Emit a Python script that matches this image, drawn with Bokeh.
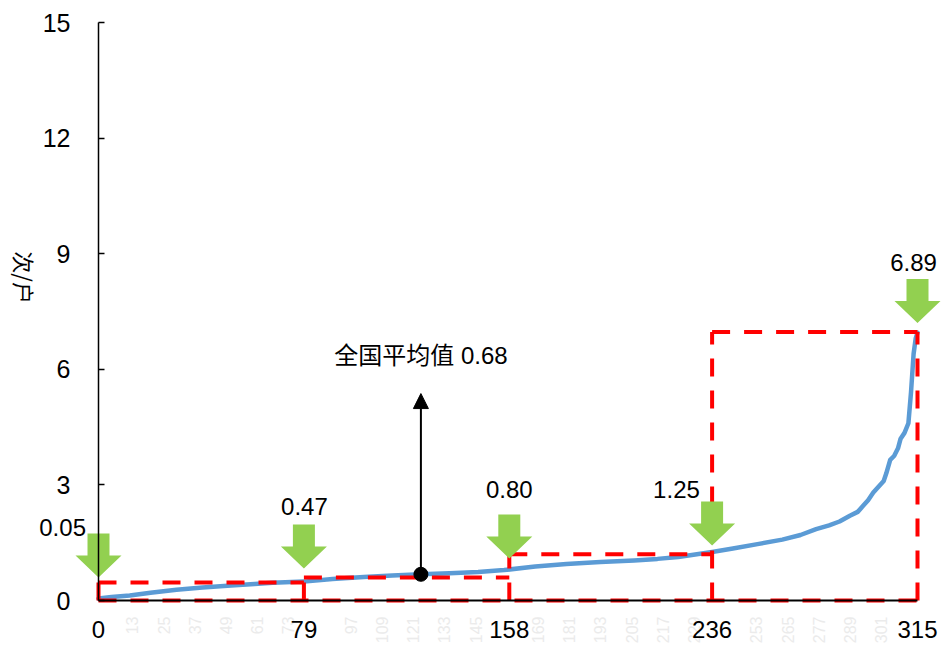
import math
from bokeh.plotting import figure
from bokeh.models import Range1d, FixedTicker, Arrow, NormalHead
from bokeh.core.properties import value
from bokeh.embed import file_html
from bokeh.resources import INLINE

# ---------------- data ----------------
rank_x = [0, 5, 12, 20, 30, 40, 51, 60, 67, 79, 90, 102, 113, 124, 135, 146,
          156, 168, 180, 193, 206, 215, 223, 236, 244, 254, 263, 270, 276, 281,
          285, 289, 292, 294, 296, 298, 300, 302, 303, 304.5, 306, 307.5, 308.5,
          310, 311.5, 312.5, 313.5, 314.3, 315]
household_y = [0.05, 0.09, 0.13, 0.20, 0.28, 0.34, 0.39, 0.43, 0.46, 0.49, 0.56,
               0.61, 0.65, 0.68, 0.71, 0.74, 0.79, 0.88, 0.95, 1.00, 1.04, 1.08,
               1.13, 1.26, 1.35, 1.47, 1.58, 1.70, 1.85, 1.95, 2.05, 2.20, 2.30,
               2.45, 2.60, 2.80, 2.95, 3.10, 3.30, 3.65, 3.75, 3.95, 4.20, 4.35,
               4.60, 5.40, 6.40, 6.80, 6.95]
quartile_pos = [0, 79, 158, 236, 315]
quartile_labels = ["0.05", "0.47", "0.80", "1.25", "6.89"]
box_tops = [0.47, 0.60, 1.20, 6.97]
arrow_tips = [0.60, 0.83, 1.09, 1.43, 7.20]
mean_rank = 124
mean_value = 0.68
mean_label = "全国平均值 0.68"
y_ticks = [0, 3, 6, 9, 12, 15]
x_ticks = [0, 79, 158, 236, 315]
faint_ticks = [13, 25, 37, 49, 61, 73, 97, 109, 121, 133, 145, 169, 181, 193,
               205, 217, 229, 253, 265, 277, 289, 301]
y_title = "次/户"

# ---------------- layout ----------------
W, H = 945, 646
KX = 2.6              # px per x unit
KY = 578.0 / 15.0     # px per y unit
x_start = -98.0 / KX
x_end = x_start + W / KX
y_end = 15 + 22.0 / KY
y_start = y_end - H / KY

label_x = [-13.8, 79.2, 158, 222.3, 313.5]
label_y = [1.89, 2.44, 2.88, 2.88, 8.77]
mean_text_y = 6.35
mean_arrow_top = 5.37
faint_y = -16.0 / KY
title_x, title_y = -28.1, 8.38

NUM_FONT = value("Liberation Sans")
MIX_FONT = value("Liberation Sans, 'Noto Sans CJK SC'")

p = figure(width=W, height=H, output_backend="svg", toolbar_location=None,
           x_range=Range1d(x_start, x_end), y_range=Range1d(y_start, y_end),
           min_border=0)
p.outline_line_color = None
p.xgrid.visible = False
p.ygrid.visible = False
p.background_fill_color = "white"
p.border_fill_color = "white"

# axes drawn at x=0 / y=0
p.yaxis.fixed_location = 0
p.yaxis.bounds = (0, 15)
p.yaxis.ticker = FixedTicker(ticks=y_ticks)
p.yaxis.major_tick_in = 6
p.yaxis.major_tick_out = 0
p.yaxis.minor_tick_in = 0
p.yaxis.minor_tick_out = 0
p.yaxis.major_label_standoff = 28
p.yaxis.major_label_text_font_size = "25px"
p.yaxis.major_label_text_font = "Liberation Sans"
p.yaxis.major_label_text_color = "black"
p.yaxis.axis_line_color = "black"
p.yaxis.axis_line_width = 1.5
p.yaxis.major_tick_line_color = "black"
p.yaxis.major_tick_line_width = 1.5

p.xaxis.fixed_location = 0
p.xaxis.bounds = (0, 315)
p.xaxis.ticker = FixedTicker(ticks=x_ticks)
p.xaxis.major_tick_in = 0
p.xaxis.major_tick_out = 0
p.xaxis.minor_tick_in = 0
p.xaxis.minor_tick_out = 0
p.xaxis.major_label_standoff = 20
p.xaxis.major_label_text_font_size = "24px"
p.xaxis.major_label_text_font = "Liberation Sans"
p.xaxis.major_label_text_color = "black"
p.xaxis.axis_line_color = "black"
p.xaxis.axis_line_width = 2

# faint rotated category labels
p.text(x=faint_ticks, y=[faint_y] * len(faint_ticks),
       text=[str(t) for t in faint_ticks], angle=math.pi / 2,
       text_align="right", text_baseline="middle", text_color="#ebebeb",
       text_font=NUM_FONT, text_font_size="16px")

# curve
p.line(rank_x, household_y, line_color="#5B9BD5", line_width=4.5,
       line_join="round", line_cap="round")

# red dashed boxes, drawn as unique edges so shared sides stay dashed
seg_xs, seg_ys = [], []
seg_xs.append([quartile_pos[0], quartile_pos[-1]])
seg_ys.append([0, 0])
for i, x in enumerate(quartile_pos):
    neighbours = [box_tops[j] for j in (i - 1, i) if 0 <= j < len(box_tops)]
    seg_xs.append([x, x])
    seg_ys.append([0, max(neighbours)])
for i, t in enumerate(box_tops):
    seg_xs.append([quartile_pos[i], quartile_pos[i + 1]])
    seg_ys.append([t, t])
p.multi_line(seg_xs, seg_ys, line_color="#FF0000", line_width=4, line_dash="18 14")

# green block arrows
hw, sw, hh, sh = 23 / KX, 11 / KX, 22 / KY, 22 / KY
axs, ays = [], []
for x, t in zip(quartile_pos, arrow_tips):
    axs.append([x, x - hw, x - sw, x - sw, x + sw, x + sw, x + hw])
    ays.append([t, t + hh, t + hh, t + hh + sh, t + hh + sh, t + hh, t + hh])
p.patches(axs, ays, fill_color="#92D050", line_color=None)

# quartile value labels
p.text(x=label_x, y=label_y, text=quartile_labels, text_align="center",
       text_baseline="middle", text_color="black", text_font=NUM_FONT,
       text_font_size="24px")

# national mean
p.add_layout(Arrow(end=NormalHead(size=15, fill_color="black", line_color="black"),
                   x_start=mean_rank, y_start=mean_value, x_end=mean_rank,
                   y_end=mean_arrow_top, line_width=2, line_color="black"))
p.scatter([mean_rank], [mean_value], size=14, fill_color="black", line_color="black")
p.text(x=[mean_rank], y=[mean_text_y], text=[mean_label], text_align="center",
       text_baseline="middle", text_color="black", text_font=MIX_FONT,
       text_font_size="24px")

# y title
p.text(x=[title_x], y=[title_y], text=[y_title], angle=-math.pi / 2,
       text_align="center", text_baseline="middle", text_color="black",
       text_font=value("Noto Sans CJK SC"), text_font_size="22px")

open("out.html", "w").write(file_html(p, INLINE))
